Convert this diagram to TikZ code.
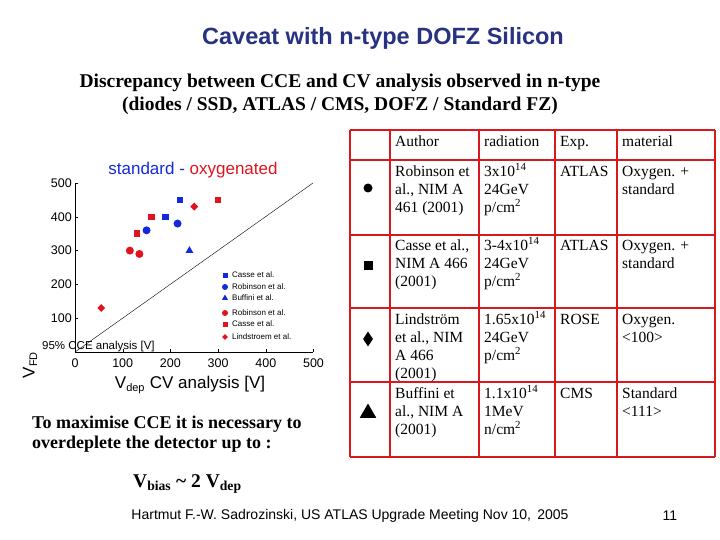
\documentclass[tikz,border=0pt]{standalone}
\usepackage{fontspec}
\setmainfont{Liberation Serif}
\setsansfont{Liberation Sans}
\usetikzlibrary{shapes.geometric}
\definecolor{ttl}{RGB}{40,50,130}
\definecolor{pb}{RGB}{20,40,220}
\definecolor{pr}{RGB}{225,20,30}
\definecolor{tr}{RGB}{215,25,30}
\newcommand{\fl}{\rule{0pt}{13pt}}
\begin{document}
\begin{tikzpicture}[x=1pt,y=-1pt,
 sq/.style={rectangle,fill=#1,minimum size=6.5pt,inner sep=0pt},
 ci/.style={circle,fill=#1,minimum size=8pt,inner sep=0pt},
 tri/.style={regular polygon,regular polygon sides=3,fill=#1,minimum size=9pt,inner sep=0pt},
 dia/.style={diamond,fill=#1,minimum size=8pt,inner sep=0pt},
 lg/.style={font=\sffamily\fontsize{8}{9}\selectfont,anchor=west,inner sep=0pt},
 cell/.style={anchor=north west,align=left,font=\fontsize{15.5}{18}\selectfont,inner sep=0pt}]
\useasboundingbox (0,0) rectangle (720,540);
\node (title) at (383,38) {\sffamily\bfseries\fontsize{23.5}{26}\selectfont\color{ttl}Caveat with n-type DOFZ Silicon};
\node (sub) at (340,94) [align=center,font=\bfseries\fontsize{19.5}{23}\selectfont] {Discrepancy between CCE and CV analysis observed in n-type\\(diodes / SSD, ATLAS / CMS, DOFZ / Standard FZ)};
% plot
\node (ptitle) at (193,170) {\sffamily\fontsize{17}{20}\selectfont\color{pb}standard - \color{pr}oxygenated};
\coordinate (o) at (75,352);
\coordinate (xe) at (313,352);
\coordinate (ye) at (75,183);
\draw[line width=0.8pt] (ye) -- (o) -- (xe);
\draw[line width=0.4pt] (o) -- (313,183);
\foreach \v in {100,200,...,500}{
 \draw (75,352-0.338*\v) -- (78,352-0.338*\v);
 \node[anchor=east,font=\sffamily\fontsize{12.5}{14}\selectfont,inner sep=1pt] at (73,352-0.338*\v) {\v};}
\foreach \v in {0,100,...,500}{
 \draw (75+0.477*\v,352) -- (75+0.477*\v,349);
 \node[font=\sffamily\fontsize{12.5}{14}\selectfont,inner sep=0pt] at (75+0.477*\v,363) {\v};}
\node[inner sep=0pt] (xl) at (190,385) {\sffamily\fontsize{17}{20}\selectfont V\textsubscript{\fontsize{11}{12}\selectfont dep} CV analysis [V]};
\node (yl) at (30,365) [rotate=90] {\sffamily\fontsize{17}{20}\selectfont V\textsubscript{\fontsize{11}{12}\selectfont FD}};
\node[anchor=base west,inner sep=0pt] (yl2) at (42,349) {\sffamily\fontsize{11.5}{12}\selectfont 95\% CCE analysis [V]};
% data
\foreach \a/\b in {220/450,190/400}{\node[sq=pb] at (75+0.477*\a,352-0.338*\b) {};}
\foreach \a/\b in {150/360,215/380}{\node[ci=pb] at (75+0.477*\a,352-0.338*\b) {};}
\node[tri=pb] at (75+0.477*240,352-0.338*300) {};
\foreach \a/\b in {115/300,135/290}{\node[ci=pr] at (75+0.477*\a,352-0.338*\b) {};}
\foreach \a/\b in {130/350,160/400,300/450}{\node[sq=pr] at (75+0.477*\a,352-0.338*\b) {};}
\foreach \a/\b in {250/430,55/130}{\node[dia=pr] at (75+0.477*\a,352-0.338*\b) {};}
% legend
\node[sq=pb,minimum size=5pt] (l1) at (225,275) {}; \node[lg] at (232,275) {Casse et al.};
\node[ci=pb,minimum size=6pt] (l2) at (225,287) {}; \node[lg] at (232,287) {Robinson et al.};
\node[tri=pb,minimum size=7pt] (l3) at (225,298) {}; \node[lg] at (232,298) {Buffini et al.};
\node[ci=pr,minimum size=6pt] (l4) at (225,313) {}; \node[lg] at (232,313) {Robinson et al.};
\node[sq=pr,minimum size=5pt] (l5) at (225,324) {}; \node[lg] at (232,324) {Casse et al.};
\node[dia=pr,minimum size=6pt] (l6) at (225,337) {}; \node[lg] at (232,337) {Lindstroem et al.};
% table
\foreach \x in {350,390,479,555,617,715}{\draw[tr,line width=2.2pt] (\x,130) -- (\x,457);}
\foreach \y in {130,160,235,308,382,457}{\draw[tr,line width=2.2pt] (350,\y) -- (715,\y);}
\node[cell] (h1) at (395,133) {\fl Author};
\node[cell] (h2) at (484,133) {\fl radiation};
\node[cell] (h3) at (560,133) {\fl Exp.};
\node[cell] (h4) at (622,133) {\fl material};
\node[circle,fill=black,minimum size=9pt,inner sep=0pt] (m1) at (368,188) {};
\node[cell] (a1) at (395,163) {\fl Robinson et\\al., NIM A\\461 (2001)};
\node[cell] (r1) at (484,163) {\fl 3x10\textsuperscript{14}\\24GeV\\p/cm\textsuperscript{2}};
\node[cell] (e1) at (560,163) {\fl ATLAS};
\node[cell] (t1) at (622,163) {\fl Oxygen. +\\standard};
\node[rectangle,fill=black,minimum size=9pt,inner sep=0pt] (m2) at (368,265) {};
\node[cell] (a2) at (395,237) {\fl Casse et al.,\\NIM A 466\\(2001)};
\node[cell] (r2) at (484,237) {\fl 3-4x10\textsuperscript{14}\\24GeV\\p/cm\textsuperscript{2}};
\node[cell] (e2) at (560,237) {\fl ATLAS};
\node[cell] (t2) at (622,237) {\fl Oxygen. +\\standard};
\node[diamond,fill=black,minimum width=10pt,minimum height=15pt,inner sep=0pt] (m3) at (368,339) {};
\node[cell] (a3) at (395,311) {\fl Lindström\\et al., NIM\\A 466\\(2001)};
\node[cell] (r3) at (484,311) {\fl 1.65x10\textsuperscript{14}\\24GeV\\p/cm\textsuperscript{2}};
\node[cell] (e3) at (560,311) {\fl ROSE};
\node[cell] (t3) at (622,311) {\fl Oxygen.\\<100>};
\node[regular polygon,regular polygon sides=3,fill=black,minimum size=19pt,inner sep=0pt] (m4) at (368,413) {};
\node[cell] (a4) at (395,385) {\fl Buffini et\\al., NIM A\\(2001)};
\node[cell] (r4) at (484,385) {\fl 1.1x10\textsuperscript{14}\\1MeV\\n/cm\textsuperscript{2}};
\node[cell] (e4) at (560,385) {\fl CMS};
\node[cell] (t4) at (622,385) {\fl Standard\\<111>};
% bottom text
\node[anchor=west,align=left,font=\bfseries\fontsize{18}{20}\selectfont,inner sep=0pt] (txt) at (32,434) {To maximise CCE it is necessary to\\overdeplete the detector up to :};
\node[anchor=west,font=\bfseries\fontsize{19.5}{22}\selectfont,inner sep=0pt] (vb) at (133,484) {V\textsubscript{bias} \textasciitilde{} 2 V\textsubscript{dep}};
\node (foot) at (350,516) {\sffamily\fontsize{14}{16}\selectfont Hartmut F.-W. Sadrozinski, US ATLAS Upgrade Meeting Nov 10,\, 2005};
\node (pg) at (670,516) {\sffamily\fontsize{14}{16}\selectfont 11};
\end{tikzpicture}
\end{document}
